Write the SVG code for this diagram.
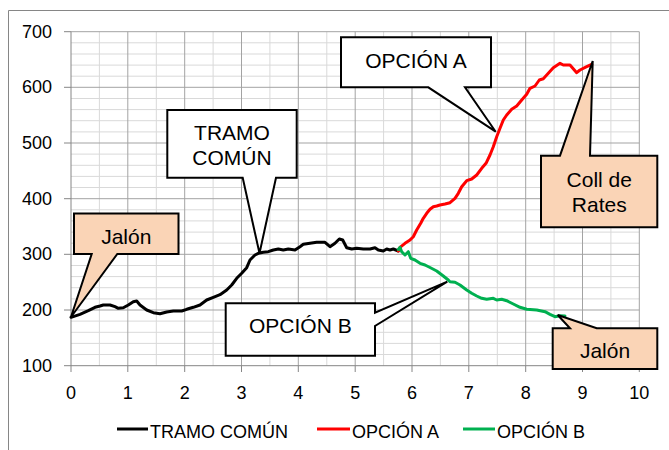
<svg xmlns="http://www.w3.org/2000/svg" width="669" height="450" viewBox="0 0 669 450">
<style>
.mn{stroke:#d9d9d9;stroke-width:1;fill:none}
.mj{stroke:#a3a3a3;stroke-width:1;fill:none}
.ax{stroke:#868686;stroke-width:1;fill:none}
.t{font-family:"Liberation Sans",Arial,sans-serif;font-size:18px;fill:#000}
.yl{text-anchor:end}
.xl{text-anchor:middle}
.co{stroke:#000;stroke-width:2;stroke-linejoin:miter}
.w{fill:#fff}
.p{fill:#fad4b6}
.ct{font-family:"Liberation Sans",Arial,sans-serif;font-size:21px;fill:#000;text-anchor:middle}
.ln{fill:none;stroke-width:3;stroke-linejoin:round;stroke-linecap:round}
</style>
<rect width="669" height="450" fill="#fff"/>
<path class="ax" d="M8.5,10.5H669M8.5,10.5V450"/>
<g id="grid">
<path class="mn" d="M99.4,31.7V365.7M156.3,31.7V365.7M213.1,31.7V365.7M269.9,31.7V365.7M326.8,31.7V365.7M383.6,31.7V365.7M440.4,31.7V365.7M497.3,31.7V365.7M554.1,31.7V365.7M610.9,31.7V365.7"/>
<path class="mn" d="M71,42.8H639.3M71,54H639.3M71,65.1H639.3M71,76.2H639.3M71,98.5H639.3M71,109.6H639.3M71,120.7H639.3M71,131.9H639.3M71,154.1H639.3M71,165.3H639.3M71,176.4H639.3M71,187.5H639.3M71,209.8H639.3M71,220.9H639.3M71,232.1H639.3M71,243.2H639.3M71,265.5H639.3M71,276.6H639.3M71,287.7H639.3M71,298.9H639.3M71,321.1H639.3M71,332.3H639.3M71,343.4H639.3M71,354.5H639.3"/>
<path class="mj" d="M71,31.7H639.3M71,87.3H639.3M71,143H639.3M71,198.7H639.3M71,254.3H639.3M71,310H639.3"/>
<path class="mj" d="M127.8,31.7V365.7M184.7,31.7V365.7M241.5,31.7V365.7M298.3,31.7V365.7M355.2,31.7V365.7M412,31.7V365.7M468.8,31.7V365.7M525.7,31.7V365.7M582.5,31.7V365.7M639.3,31.7V365.7"/>
<path class="ax" d="M71,31.7V365.7H639.3"/>
<path class="ax" d="M64,31.7H71M64,87.3H71M64,143H71M64,198.7H71M64,254.3H71M64,310H71M64,365.7H71"/>
<path class="ax" d="M71,365.7V372M127.8,365.7V372M184.7,365.7V372M241.5,365.7V372M298.3,365.7V372M355.2,365.7V372M412,365.7V372M468.8,365.7V372M525.7,365.7V372M582.5,365.7V372M639.3,365.7V372"/>
</g>
<g id="yaxis">
<text class="t yl" x="52" y="37.7">700</text>
<text class="t yl" x="52" y="93.3">600</text>
<text class="t yl" x="52" y="149">500</text>
<text class="t yl" x="52" y="204.7">400</text>
<text class="t yl" x="52" y="260.3">300</text>
<text class="t yl" x="52" y="316">200</text>
<text class="t yl" x="52" y="371.7">100</text>
</g>
<g id="xaxis">
<text class="t xl" x="71" y="399">0</text>
<text class="t xl" x="127.8" y="399">1</text>
<text class="t xl" x="184.7" y="399">2</text>
<text class="t xl" x="241.5" y="399">3</text>
<text class="t xl" x="298.3" y="399">4</text>
<text class="t xl" x="355.2" y="399">5</text>
<text class="t xl" x="412" y="399">6</text>
<text class="t xl" x="468.8" y="399">7</text>
<text class="t xl" x="525.7" y="399">8</text>
<text class="t xl" x="582.5" y="399">9</text>
<text class="t xl" x="639.3" y="399">10</text>
</g>
<g id="connectors">
<polyline id="tramo" class="ln" stroke="#000" points="71,317.3 80,314.3 88.3,310.7 95,307.3 100,306 103.3,305 110,305 115,306.7 118.3,308.3 123.3,307.7 128.3,305 133.3,301.7 136.7,301 140,305 146.7,310 153.3,312.7 160,313.7 166.7,312 173.3,311 181.7,311 186.7,309.3 193.3,307.3 200,305 206.7,300 213.3,297.3 220,294.7 226.7,290 231.7,285 236.7,278.3 241.7,273.3 246.7,267.7 250,260 255,255 258.3,253.3 263.3,252.3 268.3,251.7 273.3,250 278.3,249 283.3,250 288.3,249 295,250 300,246.7 303.3,244.3 310,243.3 316.7,242.3 325,242.3 330,246.7 335,243.3 339.3,239 342.7,240 346.7,247.7 351.7,249 356.7,248.3 363.3,249 370,249 375,247.7 378.3,250 383.3,251 386.7,249 390,250 393.3,249 398.3,251"/>
<polyline id="opcA" class="ln" stroke="#ff0000" points="398.3,251 400,247.3 405,243.3 410,240 413.3,236.7 416.7,230 420.7,223.3 423.3,218.3 426.7,213.3 430,209.3 433.3,206.7 436.7,206 440,205 445,204 450,202.7 455,198.3 458.3,193.3 461.7,186.7 466.7,180.7 471.7,179 476.7,175 481.7,168.3 486,163.3 490,155 493.3,146.7 496.7,136.7 500,128.3 503.3,120 506.7,115 511.7,109.3 516.7,106 521.7,100 526.7,94.3 530,88.3 535,86 539.3,80 543.3,78.7 548.3,73.3 553.3,67.7 560,63.3 563.3,65 570,65 576.7,72.7 580,70 586.7,66.7 591.7,64.3"/>
<polyline id="opcB" class="ln" stroke="#00b050" points="398.3,249.5 400,247.3 401.7,251.7 405,255 408.3,251.7 410.7,258.3 415,260 420,263.3 425,265 430,267.5 436.7,271 443.3,276 448.3,280 450,281.7 455,282.3 460,285 466.7,290 471.7,293.3 476.7,296 481.7,298.3 486.7,299.3 493.3,298.3 496.7,300 501.7,299.3 506.7,300.7 513.3,304 520,307.3 526.7,309.3 536.7,310 545,311.7 550,314.3 555,316.7 560,315.7 565,316"/>
</g>
<g id="callout-jalon1">
<path class="co p" d="M74,213.5H178.5V254H117.3L71,317L91.7,254H74Z"/>
<text class="ct" x="126.3" y="244">Jalón</text>
</g>
<g id="callout-tramo">
<path class="co w" d="M167.3,110H296.7V177.7H276L259.5,253.3L242.7,177.7H167.3Z"/>
<text class="ct" x="232" y="140">TRAMO</text>
<text class="ct" x="232" y="165">COMÚN</text>
</g>
<g id="callout-opcA">
<path class="co w" d="M341,37.3H491V87.3H465L495.7,131.7L428.3,87.3H341Z"/>
<text class="ct" x="416" y="68.3">OPCIÓN A</text>
</g>
<g id="callout-coll">
<path class="co p" d="M541,155.7H560L592.7,61L590,155.7H657.3V227.3H541Z"/>
<text class="ct" x="599.3" y="186.7">Coll de</text>
<text class="ct" x="599.3" y="211.7">Rates</text>
</g>
<g id="callout-opcB">
<path class="co w" d="M225.7,303.3H375V312.7L447.3,281.7L375,326V355.7H225.7Z"/>
<text class="ct" x="300.3" y="333.3">OPCIÓN B</text>
</g>
<g id="callout-jalon2">
<path class="co p" d="M552.7,328.3H570L557.7,315L596.7,328.3H657.3V369H552.7Z"/>
<text class="ct" x="605" y="358.3">Jalón</text>
</g>
<g id="legend">
<line x1="117" y1="429" x2="148" y2="429" stroke="#000" stroke-width="3"/>
<text class="t" x="150" y="438">TRAMO COMÚN</text>
<line x1="317" y1="429" x2="350" y2="429" stroke="#ff0000" stroke-width="3"/>
<text class="t" x="352" y="438">OPCIÓN A</text>
<line x1="463" y1="429" x2="495" y2="429" stroke="#00b050" stroke-width="3"/>
<text class="t" x="497" y="438">OPCIÓN B</text>
</g>
</svg>
